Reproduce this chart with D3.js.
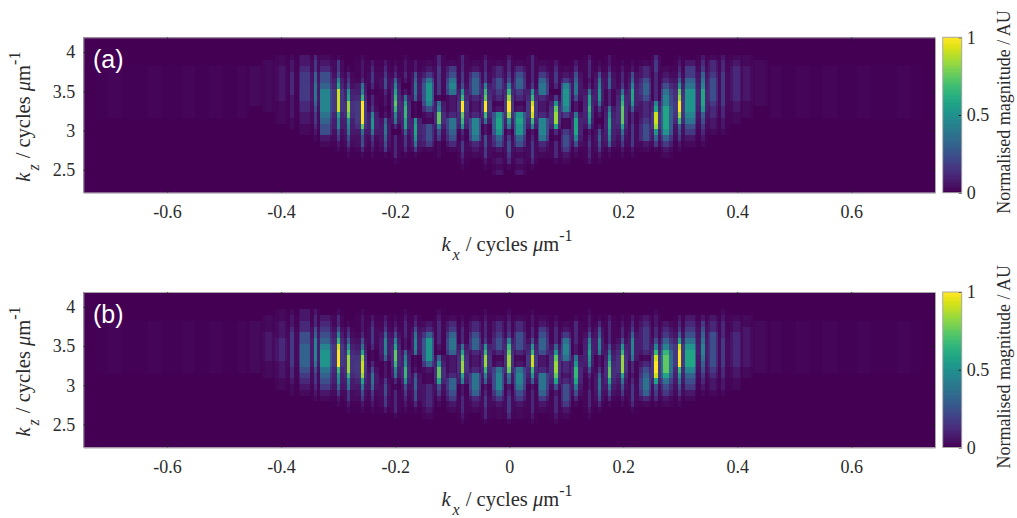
<!DOCTYPE html>
<html><head><meta charset="utf-8">
<script src="https://cdn.jsdelivr.net/npm/d3@7/dist/d3.min.js"></script>
<style>html,body{margin:0;padding:0;background:#fff}svg{display:block}</style>
</head><body><div id="chart"></div>
<script>
// Spectral grid
const kxCell = 1.5 / 256;
const kzCell = 0.0735;
const kzFirstRow = 4.19 - 2.5 * kzCell;
const kxTicks = [-0.6, -0.4, -0.2, 0, 0.2, 0.4, 0.6];
const kzTicks = [2.5, 3, 3.5, 4];
const barTicks = [0, 0.5, 1];

// Fringe columns (FFT bin offset from kx = 0) and how many bins each fringe core fills
const fringeBins = [-118,-106,-96,-88,-80,-76,-72,-68,-65,-61,-58,-55,-51,-48,-44,-41,-37,-34,-31,-28,-24,-21,-17,-14,-10,-7,-3,0,3,7,10,14,17,20,24,27,30,34,37,41,44,47,51,54,58,61,64,68,71,75,80,88,96,106,118];
const fringeCore = [4,4,4,4,3,3,2,2,1,3,1,3,1,1,1,1,1,1,1,1,2,1,2,1,2,1,2,1,2,1,2,1,2,1,1,1,1,1,1,2,1,2,1,3,1,2,1,2,2,3,3,4,4,4,4];

// Magnitude levels for the hex digits used below ('.' = barely above 0)
const levelValues = [0, .025, .06, .11, .17, .24, .31, .38, .45, .52, .59, .67, .75, .84, .92, 1];
const faintLevel = 0.012;

// Magnitude read by eye per fringe, top row to bottom row
const faint = "000.........0000000000";
const magnitudeA = [
faint,faint,faint,faint,faint,
"0001111111000000000000",
"0011111111100000000000",
"0112222221111000000000",
"0122333322221100000000",
"0223444443322110000000",
"0344667776544321000000",
"0123556888876552100000",
"014458aeeeea8854210000",
"00013459addc9875421000",
"01222378bffffc75531000",
"0023443133489974321000",
"0023455322126776541000",
"0012368abcb87303333100",
"012232027abbaa64431000",
"0022567761119aa9741000",
"0012479998521555410000",
"033444441" + "78cc854" + "111000",
"0014578722237765310000",
"03334459bffcb932443210",
"0012566632238887321000",
"0233448bcffb7225544210",
"001335543129aa96521212",
"0233458bdffd9724554310",
"001356643129a996521212",
"03333349befeb823444310",
"0012467732238887321000",
"0023443049cdda31333100",
"0001248999841145542100",
"00235677522" + "7aaa8521000",
"02333237aaba9623433200",
"0012578997420256542100",
"0223566333" + "79aa9862" + "1000",
"00123347abccca75421000",
"0012568aa963344442" + "1000",
"0013356653" + "33455521" + "0000",
"0344333338aeed96410000",
"0001235788aaaa96421000",
"0123469cdffdb654210000",
"0024467999987542100000",
"0234678aaa965432100000",
"0133455554332210000000",
"0233444444332210000000",
"0123333332211000000000",
"0112222221110000000000",
"0011111111000000000000",
faint,faint,faint,faint,faint
];
const magnitudeB = [
faint,faint,faint,faint,faint,
"0001111111110000000000",
"0011122222111000000000",
"0112223333222110000000",
"0122344444433211000000",
"0223355666654321000000",
"0233568888754432100000",
"0023456899976542100000",
"013358befffb9864210000",
"00013469bdddb874421000",
"01222357adeeda75421000",
"0023444311357764321000",
"0023468886222455442000",
"0012358accb87313333100",
"01233322689bb954321000",
"0023578871125665531000",
"0002369999621133332100",
"012333321" + "69cca54" + "210000",
"0013467762" + "223665421000",
"00123337acdda822333210",
"0013356632237776321000",
"01233349bddb8623443310",
"0013345531278886421100",
"0123348bcddc7623444310",
"0013355531278875421100",
"01223359beeb9623333210",
"0012456652" + "23777642" + "1000",
"001233369cddca52333210",
"0001247887332355542100",
"001333322" + "79bba75" + "310000",
"01223589a9853223332100",
"0013568872246776531000",
"0023333579bcca75310000",
"00123359bddda754210000",
"0023468887332344431000",
"0023444431356776310000",
"01223358beffea54310000",
"00023468bccca754210000",
"002346aefffb9754210000",
"00234579aaa86542100000",
"0024567887654321000000",
"0023355555543221000000",
"0123334444433221000000",
"0012233333322110000000",
"0011222222211000000000",
"0001111111110000000000",
faint,faint,faint,faint,faint
];

const W = 1017, H = 518;
const svg = d3.select("#chart").append("svg").attr("width", W).attr("height", H);
const serif = "'Liberation Serif','Times New Roman',serif";
const ink = "#2b2b2b";
const color = d3.interpolateViridis;

function readLevel(ch) { return ch === "." ? faintLevel : levelValues[parseInt(ch, 16)]; }

const kx = d3.scaleLinear().domain([-0.747, 0.747]).range([83.3, 935]);

function axisLabel(g, x, y, sub, rotate) {
  const t = g.append("text").attr("font-family", serif).attr("font-size", 20.5).attr("fill", ink)
    .attr("transform", `translate(${x},${y})` + (rotate ? " rotate(-90)" : ""));
  t.append("tspan").attr("font-style", "italic").text("k");
  t.append("tspan").attr("font-style", "italic").attr("font-size", 16).attr("dx", 2).attr("dy", 8.5).text(sub);
  t.append("tspan").attr("dx", 6).attr("dy", -8.5).text("/ cycles ");
  t.append("tspan").attr("font-style", "italic").text("\u03bc");
  t.append("tspan").text("m");
  t.append("tspan").attr("font-size", 16).attr("dy", -10).text("-1");
}

function panel(top, bottom, data, tag) {
  const g = svg.append("g");
  const kz = d3.scaleLinear().domain([2.206, 4.19]).range([bottom, top]);
  const left = kx.range()[0], right = kx.range()[1];

  g.append("rect").attr("x", left).attr("y", top).attr("width", right - left).attr("height", bottom - top)
    .attr("fill", color(0));

  const clipId = "clip" + tag.replace(/\W/g, "");
  g.append("clipPath").attr("id", clipId).append("rect")
    .attr("x", left).attr("y", top).attr("width", right - left).attr("height", bottom - top);
  const cells = g.append("g").attr("clip-path", `url(#${clipId})`).attr("shape-rendering", "crispEdges");

  data.forEach((col, i) => {
    const bin = fringeBins[i];
    const from = i ? (fringeBins[i - 1] + bin) / 2 : bin - 6;
    const to = i < fringeBins.length - 1 ? (fringeBins[i + 1] + bin) / 2 : bin + 6;
    const core = fringeCore[i];
    const share = core > 1 ? 0.5 : 0.17;
    const values = Array.from(col).map(readLevel);
    const sel = cells.append("g");
    values.forEach((v, r) => {
      if (v <= 0) return;
      const rowTop = kz(kzFirstRow - r * kzCell + kzCell / 2);
      const rowBot = kz(kzFirstRow - r * kzCell - kzCell / 2);
      sel.append("rect")
        .attr("x", kx(from * kxCell)).attr("width", kx(to * kxCell) - kx(from * kxCell))
        .attr("y", rowTop).attr("height", rowBot - rowTop)
        .attr("fill", color(v * share));
      sel.append("rect")
        .attr("x", kx((bin - core / 2) * kxCell)).attr("width", kx((bin + core / 2) * kxCell) - kx((bin - core / 2) * kxCell))
        .attr("y", rowTop).attr("height", rowBot - rowTop)
        .attr("fill", color(v));
    });
  });

  // Axes: inward ticks on all four sides, labels bottom and left
  const xB = g.append("g").attr("transform", `translate(0,${bottom})`)
    .call(d3.axisBottom(kx).tickValues(kxTicks).tickSizeInner(-4).tickSizeOuter(0).tickPadding(13).tickFormat(d => String(d)));
  const xT = g.append("g").attr("transform", `translate(0,${top})`)
    .call(d3.axisTop(kx).tickValues(kxTicks).tickSizeInner(-4).tickSizeOuter(0).tickFormat(""));
  const yL = g.append("g").attr("transform", `translate(${left},0)`)
    .call(d3.axisLeft(kz).tickValues(kzTicks).tickSizeInner(-4).tickSizeOuter(0).tickPadding(8).tickFormat(d => String(d)));
  const yR = g.append("g").attr("transform", `translate(${right},0)`)
    .call(d3.axisRight(kz).tickValues(kzTicks).tickSizeInner(-4).tickSizeOuter(0).tickFormat(""));
  [xB, xT, yL, yR].forEach(a => {
    a.select(".domain").attr("stroke", "#a8a8a8");
    a.selectAll(".tick line").attr("stroke", "#222").attr("stroke-opacity", 0.7);
    a.selectAll("text").attr("font-family", serif).attr("font-size", 18).attr("fill", ink);
  });

  g.append("text").attr("x", 93).attr("y", top + 30.5)
    .attr("font-family", "'Liberation Sans',Arial,sans-serif").attr("font-size", 25).attr("fill", "#fff").text(tag);

  axisLabel(g, 441.5, bottom + 58.5, "x", false);
  axisLabel(g, 30, bottom - 11, "z", true);

  // Colour bar
  const barL = 942.7, barR = 961.7;
  const bar = d3.scaleLinear().domain([0, 1]).range([bottom, top]);
  const steps = d3.range(0, 64);
  g.append("g").attr("shape-rendering", "crispEdges").selectAll("rect").data(steps).join("rect")
    .attr("x", barL).attr("width", barR - barL)
    .attr("y", d => bar((d + 1) / 64)).attr("height", d => bar(d / 64) - bar((d + 1) / 64) + 0.5)
    .attr("fill", d => color(d / 63));
  const barAxis = g.append("g").attr("transform", `translate(${barR},0)`)
    .call(d3.axisRight(bar).tickValues(barTicks).tickSizeInner(-3).tickSizeOuter(0).tickPadding(5).tickFormat(d => String(d)));
  barAxis.select(".domain").remove();
  barAxis.selectAll(".tick line").attr("stroke", "#222");
  barAxis.selectAll("text").attr("font-family", serif).attr("font-size", 18).attr("fill", ink);
  g.append("rect").attr("x", barL).attr("y", top).attr("width", barR - barL).attr("height", bottom - top)
    .attr("fill", "none").attr("stroke", "#a8a8a8");
  g.append("text").attr("transform", `translate(1010,${(top + bottom) / 2 - 3}) rotate(-90)`)
    .attr("text-anchor", "middle").attr("font-family", serif).attr("font-size", 18).attr("fill", ink)
    .text("Normalised magnitude / AU");
}

panel(37.3, 192.7, magnitudeA, "(a)");
panel(292, 447.5, magnitudeB, "(b)");
</script></body></html>
